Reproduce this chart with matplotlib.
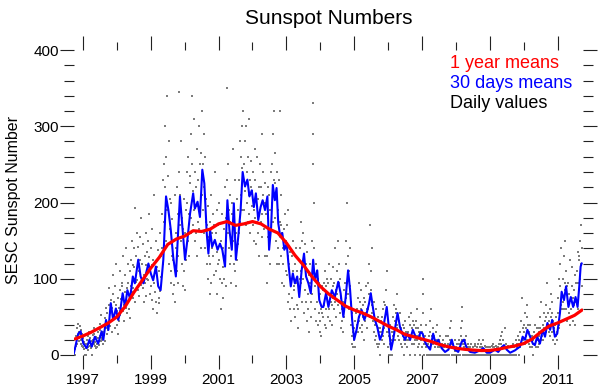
import matplotlib
matplotlib.use("Agg")
import matplotlib.pyplot as plt
import numpy as np

plt.rcParams['font.family'] = ['Liberation Sans', 'DejaVu Sans']

# ---------------- data ----------------
title = "Sunspot Numbers"
ylabel = "SESC Sunspot Number"
legend_labels = ["1 year means", "30 days means", "Daily values"]
year_major = [1997, 1999, 2001, 2003, 2005, 2007, 2009, 2011]
year_minor = [1998, 2000, 2002, 2004, 2006, 2008, 2010]
y_major = [0, 100, 200, 300, 400]

# 1 year means
red_t = [1996.76, 1997.0, 1997.25, 1997.5, 1997.75, 1998.0, 1998.25, 1998.5, 1998.75,
         1999.0, 1999.25, 1999.5, 1999.75, 2000.0, 2000.25, 2000.5, 2000.75, 2001.0,
         2001.25, 2001.5, 2001.75, 2002.0, 2002.25, 2002.5, 2002.75, 2003.0, 2003.25,
         2003.5, 2003.75, 2004.0, 2004.25, 2004.5, 2004.75, 2005.0, 2005.25, 2005.5,
         2005.75, 2006.0, 2006.25, 2006.5, 2006.75, 2007.0, 2007.25, 2007.5, 2007.75,
         2008.0, 2008.25, 2008.5, 2008.75, 2009.0, 2009.25, 2009.5, 2009.75, 2010.0,
         2010.25, 2010.5, 2010.75, 2011.0, 2011.25, 2011.5, 2011.72]
red_v = [21, 25, 30, 36, 42, 50, 64, 82, 98,
         114, 128, 145, 152, 156, 163, 162, 165, 172,
         175, 170, 172, 175, 172, 165, 160, 147, 131,
         118, 103, 90, 80, 72, 64, 59, 55, 50,
         44, 38, 33, 27, 24, 21, 18, 14, 11,
         9, 7.5, 6.5, 5.8, 6, 7.5, 10, 12, 15,
         21, 30, 38, 42, 47, 52, 59]

# 30 days means
blue_t = [1996.73, 1996.86, 1996.93, 1997.01, 1997.11, 1997.19, 1997.26, 1997.35, 1997.45,
          1997.55, 1997.60, 1997.68, 1997.75, 1997.82, 1997.89, 1997.97, 1998.04, 1998.09,
          1998.17, 1998.24, 1998.31, 1998.39, 1998.47, 1998.53, 1998.63, 1998.70, 1998.78,
          1998.86, 1998.93, 1999.00, 1999.07, 1999.15, 1999.22, 1999.29, 1999.37, 1999.45,
          1999.52, 1999.59, 1999.66, 1999.74, 1999.81, 1999.86, 1999.94, 2000.01, 2000.08,
          2000.16, 2000.25, 2000.30, 2000.38, 2000.45, 2000.52, 2000.58, 2000.65, 2000.70,
          2000.75, 2000.81, 2000.89, 2000.97, 2001.04, 2001.11, 2001.19, 2001.26, 2001.32,
          2001.39, 2001.45, 2001.51, 2001.58, 2001.65, 2001.71, 2001.78, 2001.85, 2001.91,
          2001.98, 2002.04, 2002.10, 2002.17, 2002.24, 2002.30, 2002.37, 2002.44, 2002.49,
          2002.55, 2002.60, 2002.66, 2002.71, 2002.76, 2002.82, 2002.88, 2002.94, 2003.01,
          2003.06, 2003.13, 2003.19, 2003.25, 2003.32, 2003.38, 2003.45, 2003.52, 2003.58,
          2003.65, 2003.72, 2003.79, 2003.84, 2003.91, 2003.97, 2004.04, 2004.09, 2004.17,
          2004.24, 2004.34, 2004.43, 2004.53, 2004.60, 2004.68, 2004.75, 2004.82, 2004.88,
          2004.94, 2005.00, 2005.07, 2005.14, 2005.22, 2005.30, 2005.37, 2005.44, 2005.49,
          2005.55, 2005.61, 2005.68, 2005.76, 2005.83, 2005.91, 2005.96, 2006.03, 2006.09,
          2006.15, 2006.23, 2006.28, 2006.35, 2006.42, 2006.50, 2006.57, 2006.65, 2006.73,
          2006.81, 2006.89, 2006.96, 2007.02, 2007.08, 2007.14, 2007.24, 2007.33, 2007.40,
          2007.48, 2007.58, 2007.68, 2007.78, 2007.88, 2007.92, 2007.97, 2008.07, 2008.17,
          2008.24, 2008.32, 2008.42, 2008.56, 2008.71, 2008.81, 2008.91, 2009.01, 2009.15,
          2009.25, 2009.35, 2009.42, 2009.50, 2009.60, 2009.74, 2009.89, 2009.97, 2010.04,
          2010.11, 2010.19, 2010.27, 2010.33, 2010.40, 2010.48, 2010.56, 2010.63, 2010.70,
          2010.78, 2010.84, 2010.92, 2010.99, 2011.07, 2011.12, 2011.19, 2011.25, 2011.32,
          2011.39, 2011.46, 2011.53, 2011.59, 2011.64, 2011.68, 2011.71]
blue_v = [2, 28, 31, 15, 9, 20, 11, 24, 15,
          31, 20, 46, 33, 68, 46, 61, 46, 55,
          81, 63, 85, 74, 103, 94, 125, 103, 94,
          107, 120, 107, 98, 116, 90, 85, 125, 208,
          190, 164, 129, 103, 164, 208, 164, 125, 151,
          186, 212, 192, 201, 181, 243, 225, 160, 133,
          164, 142, 151, 138, 146, 138, 116, 203, 164,
          138, 199, 125, 155, 190, 240, 221, 230, 208,
          216, 194, 212, 177, 194, 203, 190, 208, 138,
          168, 223, 203, 219, 173, 155, 160, 138, 146,
          120, 90, 107, 94, 103, 76, 111, 133, 103,
          94, 81, 125, 98, 111, 72, 63, 63, 81,
          63, 85, 76, 96, 81, 50, 76, 111, 85,
          46, 20, 33, 50, 59, 46, 55, 68, 81,
          63, 46, 37, 20, 28, 50, 63, 33, 7,
          20, 42, 55, 37, 28, 20, 28, 20, 33,
          24, 22, 30, 28, 18, 13, 7, 28, 15,
          20, 9, 4, 7, 20, 13, 7, 4, 17,
          20, 9, 4, 3, 6, 9, 3, 3, 7,
          4, 10, 13, 7, 3, 6, 11, 24, 20,
          33, 24, 15, 13, 24, 15, 33, 24, 42,
          33, 46, 24, 28, 55, 83, 72, 90, 63,
          76, 63, 76, 63, 90, 116, 120]

# Daily values, one value every 5 days starting at 1996.75
daily_start = 1996.75
daily_step_days = 5
daily_values = [
    # 1996.75 - 1997.75
    0, 0, 8, 12, 25, 14, 35, 22, 41, 30, 18, 27, 38, 20, 33, 15, 12, 28,
    10, 22, 17, 8, 0, 14, 9, 0, 15, 20, 11, 7, 25, 16, 30, 12, 22, 9,
    11, 0, 18, 26, 20, 14, 28, 35, 17, 12, 24, 9, 15, 10, 22, 30, 13, 18,
    33, 41, 25, 52, 19, 22, 20, 14, 30, 38, 26, 18, 48, 62, 35, 28, 55, 40, 33,
    # 1997.75 - 1998.75
    42, 65, 88, 38, 55, 72, 45, 30, 62, 80, 51, 105, 70, 48, 91, 35, 66, 120,
    40, 58, 28, 75, 62, 44, 85, 52, 110, 60, 74, 95, 90, 58, 130, 66, 45, 82,
    105, 70, 62, 140, 88, 55, 95, 120, 60, 72, 48, 110, 125, 90, 150, 82, 118, 75,
    88, 140, 115, 70, 193, 96, 130, 160, 98, 142, 85, 120, 110, 78, 155, 125, 92, 180, 100,
    # 1998.75 - 1999.75
    120, 88, 145, 70, 105, 130, 95, 160, 118, 78, 135, 100, 150, 98, 128, 185, 80, 112,
    90, 140, 72, 118, 165, 60, 125, 95, 210, 108, 82, 150, 70, 115, 55, 138, 92, 75,
    110, 68, 160, 84, 102, 130, 140, 185, 230, 120, 175, 250, 220, 300, 175, 260, 150, 340,
    190, 145, 235, 280, 120, 205, 165, 110, 200, 95, 178, 130, 80, 125, 150, 92, 210, 70, 140,
    # 1999.75 - 2000.75
    160, 110, 220, 185, 95, 130, 240, 345, 170, 210, 150, 280, 180, 120, 165, 90, 205, 140,
    110, 160, 85, 190, 125, 240, 200, 150, 260, 130, 185, 225, 235, 180, 290, 160, 250, 340,
    215, 170, 310, 190, 240, 150, 160, 220, 130, 270, 195, 175, 230, 165, 300, 185, 250, 140,
    265, 210, 320, 250, 190, 290, 220, 160, 140, 260, 175, 205, 120, 170, 100, 195, 155, 130, 80,
    # 2000.75 - 2001.75
    175, 120, 210, 95, 160, 140, 130, 185, 105, 170, 240, 150, 110, 160, 80, 190, 135, 120,
    170, 125, 200, 100, 145, 60, 150, 95, 185, 115, 140, 75, 100, 165, 130, 220, 90, 180,
    230, 350, 160, 250, 190, 140, 175, 120, 210, 130, 95, 185, 200, 150, 270, 120, 180, 230,
    110, 160, 90, 140, 205, 125, 190, 145, 230, 160, 280, 175, 260, 210, 300, 190, 245, 320, 230,
    # 2001.75 - 2002.75
    250, 190, 280, 215, 170, 300, 240, 200, 260, 175, 310, 210, 185, 230, 160, 255, 220, 195,
    215, 170, 240, 190, 150, 270, 230, 180, 145, 210, 260, 175, 160, 205, 130, 220, 190, 250,
    220, 175, 290, 185, 155, 210, 240, 165, 200, 130, 225, 185, 200, 130, 95, 155, 220, 180,
    150, 210, 120, 190, 240, 165, 250, 200, 290, 175, 230, 320, 225, 180, 265, 150, 205, 120, 240,
    # 2002.75 - 2003.75
    190, 140, 230, 120, 175, 320, 170, 130, 210, 95, 160, 140, 120, 165, 90, 185, 140, 110,
    150, 105, 170, 70, 130, 190, 120, 80, 60, 135, 95, 45, 130, 75, 110, 150, 60, 90,
    85, 120, 50, 140, 95, 65, 110, 60, 35, 125, 80, 100, 140, 95, 175, 110, 70, 150,
    100, 160, 130, 55, 145, 85, 120, 70, 45, 110, 135, 80, 60, 105, 30, 95, 120, 70, 50,
    # 2003.75 - 2004.75
    80, 150, 250, 330, 290, 200, 140, 90, 60, 120, 45, 110, 70, 100, 40, 55, 95, 30,
    45, 80, 60, 25, 90, 55, 85, 50, 95, 65, 40, 110, 60, 90, 35, 75, 100, 50,
    95, 60, 120, 45, 80, 70, 100, 65, 40, 90, 115, 75, 60, 95, 140, 70, 50, 85,
    110, 80, 150, 65, 95, 120, 90, 55, 100, 35, 75, 60, 45, 70, 30, 85, 50, 95, 65,
    # 2004.75 - 2005.75
    120, 150, 75, 200, 95, 130, 80, 110, 60, 140, 90, 70, 40, 25, 55, 15, 30, 10,
    20, 35, 10, 45, 30, 55, 60, 40, 75, 30, 95, 50, 45, 70, 35, 85, 60, 40,
    30, 65, 50, 20, 75, 45, 70, 45, 90, 55, 35, 60, 95, 60, 120, 80, 50, 170,
    85, 110, 55, 140, 65, 45, 55, 30, 70, 40, 20, 60, 25, 45, 15, 35, 10, 50, 30,
    # 2005.75 - 2006.75
    15, 35, 0, 30, 45, 20, 50, 25, 60, 35, 15, 70, 65, 40, 85, 55, 30, 110,
    30, 10, 0, 25, 15, 40, 0, 20, 10, 30, 0, 25, 50, 30, 65, 20, 45, 55,
    60, 35, 80, 40, 25, 50, 20, 45, 30, 55, 15, 35, 30, 10, 25, 40, 0, 20,
    35, 15, 45, 20, 30, 10, 10, 30, 20, 50, 25, 0, 40, 20, 55, 25, 35, 15, 45,
    # 2006.75 - 2007.75
    30, 15, 40, 20, 0, 35, 45, 25, 60, 20, 35, 10, 15, 30, 0, 25, 40, 20,
    30, 10, 55, 80, 100, 15, 0, 25, 15, 40, 10, 20, 0, 15, 0, 10, 25, 0,
    30, 45, 15, 60, 25, 0, 15, 35, 0, 25, 20, 10, 20, 0, 30, 15, 40, 10,
    0, 20, 10, 0, 25, 15, 0, 15, 0, 10, 0, 20, 10, 0, 15, 0, 25, 0, 10,
    # 2007.75 - 2008.75
    0, 15, 25, 0, 10, 0, 20, 35, 10, 45, 0, 15, 0, 15, 10, 0, 20, 5,
    0, 0, 10, 0, 15, 0, 0, 15, 20, 0, 10, 25, 35, 63, 45, 20, 0, 15,
    10, 0, 20, 15, 0, 25, 0, 0, 10, 0, 15, 0, 0, 10, 0, 0, 15, 0,
    0, 0, 10, 0, 0, 15, 0, 12, 0, 0, 10, 0, 0, 15, 0, 20, 0, 10, 0,
    # 2008.75 - 2009.75
    0, 15, 10, 0, 20, 0, 0, 0, 12, 0, 10, 0, 0, 0, 0, 10, 0, 0,
    0, 10, 0, 0, 0, 12, 0, 10, 15, 0, 0, 11, 0, 0, 12, 0, 10, 0,
    10, 0, 15, 0, 20, 0, 15, 25, 0, 10, 30, 0, 20, 0, 10, 35, 0, 15,
    0, 10, 0, 0, 12, 0, 0, 0, 10, 0, 0, 0, 0, 10, 0, 15, 0, 0, 10,
    # 2009.75 - 2010.75
    0, 12, 20, 0, 10, 15, 15, 25, 0, 20, 10, 30, 30, 45, 15, 75, 20, 35,
    20, 40, 30, 15, 55, 25, 35, 50, 20, 65, 30, 40, 15, 30, 10, 40, 20, 25,
    10, 25, 0, 20, 15, 30, 30, 15, 40, 10, 25, 35, 20, 35, 10, 30, 15, 25,
    35, 50, 20, 70, 30, 25, 40, 20, 55, 35, 25, 45, 50, 30, 65, 40, 95, 35, 55,
    # 2010.75 - 2011.75
    45, 30, 60, 25, 50, 80, 55, 30, 70, 45, 20, 40, 35, 15, 40, 25, 50, 20,
    30, 55, 75, 40, 100, 35, 90, 120, 65, 140, 80, 60, 100, 70, 130, 60, 150, 95,
    85, 60, 110, 45, 90, 70, 95, 55, 80, 125, 40, 75, 60, 90, 50, 115, 75, 45,
    85, 65, 105, 40, 95, 70, 70, 110, 60, 135, 95, 125, 130, 150, 100, 170, 120, 90, 140,
]

# ---------------- plot ----------------
fig = plt.figure(figsize=(6.0, 3.9), dpi=100)
ax = fig.add_axes([74 / 600, 1 - 355 / 390, (583 - 74) / 600, (355 - 50) / 390])

daily_t = daily_start + np.arange(len(daily_values)) * daily_step_days / 365.25
ax.scatter(daily_t, daily_values, s=3.6, marker='s', color='#7c7c7c',
           linewidths=0, zorder=1)
ax.plot(blue_t, blue_v, color='#0000ff', lw=1.5, zorder=2)
ax.plot(red_t, red_v, color='#ff0000', lw=2.3, zorder=3, solid_capstyle='round')

ax.set_xlim(1996.735, 2011.75)
ax.set_ylim(0, 400)

for s in ax.spines.values():
    s.set_visible(False)

ax.set_xticks(year_major)
ax.set_xticklabels([str(y) for y in year_major])
ax.set_xticks(year_minor, minor=True)
ax.set_yticks(y_major)
ax.set_yticklabels([str(v) for v in y_major])
ax.set_yticks(np.arange(0, 401, 20), minor=True)

ax.tick_params(axis='x', which='both', bottom=True, top=True, direction='out',
               labelsize=11, width=0.8, color='#222222', pad=3)
ax.tick_params(axis='x', which='major', length=10)
ax.tick_params(axis='x', which='minor', length=6)
ax.tick_params(axis='y', which='both', left=True, right=True, direction='out',
               labelsize=11, width=0.8, color='#222222', pad=1)
ax.tick_params(axis='y', which='major', length=10)
ax.tick_params(axis='y', which='minor', length=7.5)

fig.text(329 / 600, 1 - 18 / 390, title, ha='center', va='center', fontsize=15)
fig.text(14 / 600, 1 - 200 / 390, ylabel, ha='center', va='center',
         rotation=90, fontsize=11.5)

leg_colors = ['#ff0000', '#0000ff', '#000000']
leg_y = [63, 84, 104]
for lab, c, yy in zip(legend_labels, leg_colors, leg_y):
    fig.text(450 / 600, 1 - yy / 390, lab, ha='left', va='center',
             fontsize=13, color=c)

fig.savefig('out.png', dpi=100)
